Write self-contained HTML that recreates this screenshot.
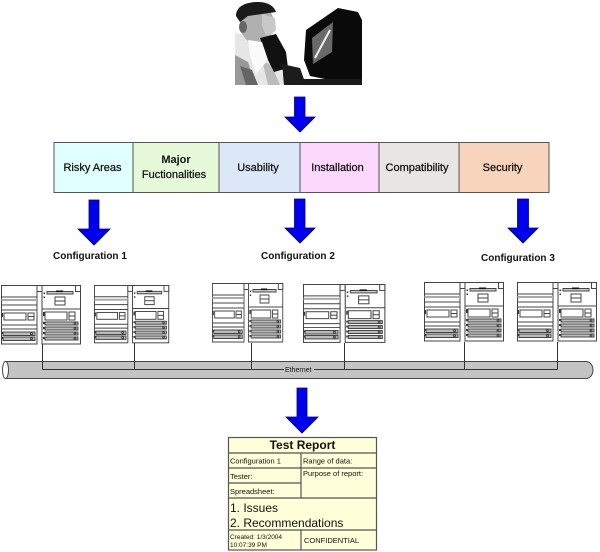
<!DOCTYPE html>
<html><head><meta charset="utf-8"><style>
html,body{margin:0;padding:0;background:#fff;}
svg{display:block;}
text{font-family:"Liberation Sans",Arial,sans-serif;}
</style></head><body>
<svg width="600" height="552" viewBox="0 0 600 552" xmlns="http://www.w3.org/2000/svg">
<defs>
<g id="pair" stroke="#444" stroke-width="1" fill="none">
  <rect x="0.5" y="0.5" width="35.5" height="58.5" fill="#fff"/>
  <rect x="36" y="0.5" width="5" height="6" fill="#fff"/>
  <line x1="0.5" y1="12" x2="36" y2="12"/>
  <rect x="0.5" y="14" width="35.5" height="2" fill="#aaa" stroke="none"/>
  <line x1="0.5" y1="20" x2="36" y2="20"/>
  <line x1="0.5" y1="25" x2="36" y2="25"/>
  <rect x="3" y="28" width="22" height="7" fill="#fff"/>
  <rect x="27" y="28" width="6" height="7" fill="#fff"/>
  <line x1="27" y1="31.5" x2="33" y2="31.5"/>
  <rect x="0.5" y="28" width="1.5" height="4" fill="#333" stroke="none"/>
  <line x1="0.5" y1="40" x2="36" y2="40"/>
  <line x1="0.5" y1="44" x2="36" y2="44"/>
  <rect x="2" y="47" width="32" height="3.5" fill="#bbb"/>
  <rect x="2" y="52" width="32" height="3.5" fill="#bbb"/>
  <circle cx="30.5" cy="48.7" r="1"/><circle cx="30.5" cy="53.7" r="1"/>
  <rect x="0.5" y="47" width="1.5" height="2" fill="#333" stroke="none"/>
  <rect x="0.5" y="52" width="1.5" height="2" fill="#333" stroke="none"/>
  <rect x="41" y="0.5" width="38.5" height="58.5" fill="#fff"/>
  <rect x="74.5" y="0.5" width="5" height="6" fill="#fff"/>
  <rect x="46" y="6.5" width="26" height="2.5" fill="#ccc"/>
  <rect x="55" y="5.5" width="7" height="1.6" fill="#111" stroke="none"/>
  <rect x="42.5" y="7.5" width="1.5" height="1.5" fill="#333" stroke="none"/>
  <rect x="42.5" y="11.5" width="1.5" height="1.5" fill="#333" stroke="none"/>
  <rect x="54" y="12" width="10" height="8" fill="#fff"/>
  <line x1="54" y1="16" x2="64" y2="16"/>
  <line x1="41" y1="24" x2="79.5" y2="24"/>
  <rect x="44" y="27" width="22" height="8" fill="#fff"/>
  <rect x="68" y="27" width="6" height="8" fill="#fff"/>
  <line x1="68" y1="31" x2="74" y2="31"/>
  <rect x="42" y="27" width="1.5" height="4" fill="#333" stroke="none"/>
  <rect x="44" y="37" width="33" height="3" fill="#bbb"/>
  <rect x="44" y="42" width="33" height="3" fill="#bbb"/>
  <rect x="44" y="47" width="33" height="3" fill="#bbb"/>
  <rect x="44" y="52" width="33" height="3" fill="#bbb"/>
  <circle cx="74" cy="38.5" r="0.9"/><circle cx="74" cy="43.5" r="0.9"/>
  <circle cx="74" cy="48.5" r="0.9"/><circle cx="74" cy="53.5" r="0.9"/>
  <rect x="42" y="37" width="1.5" height="2" fill="#333" stroke="none"/>
  <rect x="42" y="42" width="1.5" height="2" fill="#333" stroke="none"/>
  <rect x="42" y="47" width="1.5" height="2" fill="#333" stroke="none"/>
  <rect x="42" y="52" width="1.5" height="2" fill="#333" stroke="none"/>
</g>
</defs>

<g>
  <polygon points="235,33 262,38 276,58 286,85 235,85" fill="#e6e6e6"/>
  <polygon points="235,55 248,62 256,85 235,85" fill="#999"/>
  <polygon points="240,66 252,70 258,85 246,85" fill="#666"/>
  <polygon points="262,60 272,66 280,85 268,85" fill="#bbb"/>
  <ellipse cx="257" cy="24" rx="17" ry="20" fill="#b0b0b0"/>
  <polygon points="262,14 275,18 276,30 272,34 266,36 262,26" fill="#c8c8c8"/>
  <path d="M236,16 C236,6 246,2 258,2 C268,2 274,6 276,12 L262,14 L248,16 L240,22 Z" fill="#1a1a1a"/>
  <ellipse cx="243" cy="27" rx="4" ry="6" fill="#666"/>
  <polygon points="260,38 276,34 286,52 288,68 274,72 266,56" fill="#111"/>
  <polygon points="248,40 262,42 268,60 256,74 250,56" fill="#fafafa"/>
  <polygon points="282,64 300,68 306,85 284,85" fill="#1c1c1c"/>
  <polygon points="306,30 338,8 358,12 362,20 362,80 340,82 310,76 304,60" fill="#0a0a0a"/>
  <polygon points="312,38 333,22 332,52 313,64" fill="#6a6a6a"/>
  <line x1="315" y1="58" x2="330" y2="30" stroke="#eee" stroke-width="2"/>
  <rect x="300" y="79" width="62" height="6" fill="#1a1a1a"/>
</g>

<g fill="#0000ee" stroke="#00007a" stroke-width="0.8">
  <polygon points="294.5,97 305,97 305,117 315,117 300,132 285,117 294.5,117"/>
  <polygon points="89,200 99,200 99,229 110,229 94,245 78,229 89,229"/>
  <polygon points="294.5,199 305,199 305,228 315,228 300,243 285,228 294.5,228"/>
  <polygon points="517.5,199 528.5,199 528.5,228 538,228 523,243 508,228 517.5,228"/>
  <polygon points="297,388 307,388 307,417 318,417 302,433 286,417 297,417"/>
</g>

<g stroke="#555" stroke-width="1">
  <rect x="54" y="142.5" width="79" height="50" fill="#e0ffff"/>
  <rect x="133" y="142.5" width="86" height="50" fill="#e6f9d8"/>
  <rect x="219" y="142.5" width="81" height="50" fill="#dce8f8"/>
  <rect x="300" y="142.5" width="79" height="50" fill="#fcd8fc"/>
  <rect x="379" y="142.5" width="80" height="50" fill="#e9e5e2"/>
  <rect x="459" y="142.5" width="90" height="50" fill="#f9d4bc"/>
</g>
<g font-size="11" fill="#111" stroke="#111" stroke-width="0.25" text-anchor="middle">
  <text x="92.5" y="171">Risky Areas</text>
  <text x="176" y="163" font-weight="bold" stroke="none">Major</text>
  <text x="174" y="178">Fuctionalities</text>
  <text x="258" y="171">Usability</text>
  <text x="337.5" y="171">Installation</text>
  <text x="417" y="171">Compatibility</text>
  <text x="502.5" y="171">Security</text>
</g>

<g font-size="10" font-weight="bold" fill="#111">
  <text x="53" y="259">Configuration 1</text>
  <text x="261" y="259">Configuration 2</text>
  <text x="481" y="261">Configuration 3</text>
</g>

<use href="#pair" transform="translate(1,285) scale(1,1)"/>
<use href="#pair" transform="translate(94,285) scale(0.94,0.98)"/>
<use href="#pair" transform="translate(212,283) scale(0.89,1)"/>
<use href="#pair" transform="translate(303,284) scale(1.03,0.99)"/>
<use href="#pair" transform="translate(424,282) scale(1.0,1)"/>
<use href="#pair" transform="translate(517,282) scale(1.0,1)"/>

<path d="M5,361.5 L586,361.5 A7,8.5 0 0 1 586,378.5 L5,378.5 Z" fill="#c4c4c4" stroke="#444" stroke-width="1"/>
<ellipse cx="5.5" cy="370" rx="3" ry="8.5" fill="#fff" stroke="#444" stroke-width="1"/>
<g stroke="#333" stroke-width="1" fill="none">
  <line x1="42.5" y1="344" x2="42.5" y2="369.5"/>
  <line x1="134.5" y1="343" x2="134.5" y2="369.5"/>
  <line x1="251.5" y1="343" x2="251.5" y2="369.5"/>
  <line x1="344.5" y1="343" x2="344.5" y2="369.5"/>
  <line x1="464.5" y1="342" x2="464.5" y2="369.5"/>
  <line x1="557.5" y1="342" x2="557.5" y2="369.5"/>
  <line x1="42.5" y1="369.5" x2="284" y2="369.5"/>
  <line x1="314" y1="369.5" x2="557.5" y2="369.5"/>
</g>
<text x="285" y="372" font-size="7" fill="#111">Ethernet</text>

<g stroke="#555" stroke-width="1.2" fill="none">
  <rect x="228.5" y="437.5" width="148" height="112.5" fill="#ffffd9"/>
  <line x1="228.5" y1="453" x2="376.5" y2="453"/>
  <line x1="228.5" y1="468" x2="376.5" y2="468"/>
  <line x1="228.5" y1="483" x2="301" y2="483"/>
  <line x1="228.5" y1="498" x2="376.5" y2="498"/>
  <line x1="228.5" y1="530" x2="376.5" y2="530"/>
  <line x1="301" y1="453" x2="301" y2="498"/>
  <line x1="301" y1="530" x2="301" y2="550"/>
</g>
<g fill="#111">
  <text x="302.5" y="449" font-size="12" font-weight="bold" text-anchor="middle">Test Report</text>
  <text x="230" y="463.5" font-size="7.5">Configuration 1</text>
  <text x="303" y="463.5" font-size="7.5">Range of data:</text>
  <text x="230" y="479" font-size="7.5">Tester:</text>
  <text x="303" y="476" font-size="7.5">Purpose of report:</text>
  <text x="230" y="494" font-size="7.5">Spreadsheet:</text>
  <text x="230" y="512" font-size="12">1. Issues</text>
  <text x="230" y="527" font-size="12">2. Recommendations</text>
  <text x="230" y="539" font-size="6.5">Created: 1/3/2004</text>
  <text x="230" y="547" font-size="6.5">10:07:39 PM</text>
  <text x="304" y="543" font-size="7.5">CONFIDENTIAL</text>
</g>
</svg>
</body></html>
